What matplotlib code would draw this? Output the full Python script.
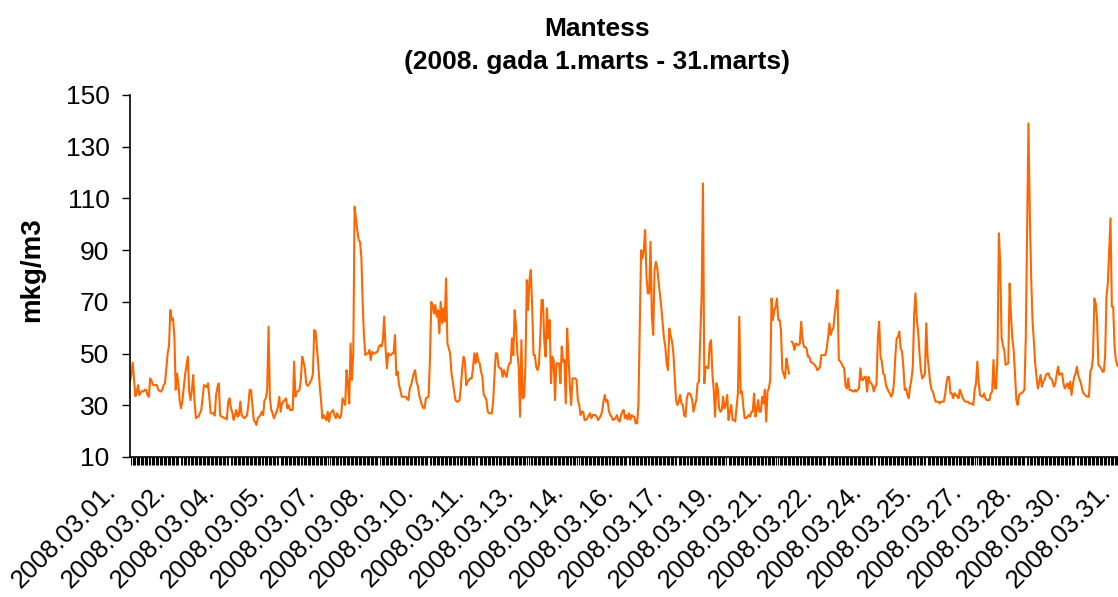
import numpy as np
import matplotlib
matplotlib.use("Agg")
import matplotlib.pyplot as plt
from matplotlib.ticker import FixedLocator, NullFormatter
from matplotlib.transforms import ScaledTranslation

plt.rcParams['font.family'] = ['Liberation Sans', 'DejaVu Sans']

# Consecutive hourly PM values (mkg/m3), 1-31 March 2008 in chunks
part01 = [39, 42, 46.5, 40, 33.5, 35, 37.8, 34, 35, 35.5, 35.3, 36, 36, 34, 33.3, 40.4, 39.5, 38, 37.8, 37.8, 37.8, 36, 35.5, 35.3]
part02 = [36, 37.8, 38.5, 44, 50, 53, 66.8, 63, 63.6, 56.5, 36, 42.3, 38, 31.4, 28.8, 32, 37.1, 42, 45.5, 48.8, 35.3, 32, 36]
part03 = [41.7, 31, 25, 25.6, 25.6, 27, 28.2, 33, 37.8, 37.5, 37.1, 38.5, 33, 27, 26.9, 26.9, 26, 34, 37, 38.5, 26.2, 25.6, 25.5, 25]
part04 = [25, 24.5, 31.4, 32.7, 29, 27.5, 24.3, 26, 28.2, 25.6, 26.2, 31.4, 26.2, 25.6, 25, 25.5, 26.2, 30.1, 36, 35.8, 30, 24.3, 23.5, 22.4]
part05 = [25, 25.6, 26.2, 27.5, 26.2, 32, 32.7, 36, 60.4, 33, 28.2, 27, 25, 26.2, 27.5, 29.5, 33.3, 27.5, 30.7, 31.5, 32, 32.7, 28.8]
part06 = [30, 28.2, 28.2, 28.2, 46.9, 33.3, 35.3, 35.3, 36, 39.8, 48.8, 46.9, 44.3, 38.5, 37.5, 38, 39, 40, 42.3, 59.1, 58.5, 52, 45.6, 37.8]
part07 = [32, 25, 26.2, 25, 24.3, 27.5, 23.7, 26.9, 27.5, 28.2, 26.2, 25, 26.9, 25.6, 25, 26.2, 32.7, 31.4, 30.1, 43.6, 38.5, 30.7, 53.9]
part08 = [39.8, 50.1, 106.8, 102, 97.8, 94, 93.2, 87.4, 69.4, 56.5, 49.4, 50, 50.1, 51.4, 47.5, 50.7, 50, 50.1, 50.5, 50.7, 52.7, 53.3, 52.7, 55]
part09 = [64.3, 52, 44.3, 50.1, 49.4, 49.4, 50.1, 50.1, 57.2, 41.7, 43, 38, 35.9, 33.3, 33.3, 33.3, 33.3, 32.5, 32, 36.5, 37.8, 40, 42.3, 43.6]
part10 = [39.1, 37.5, 34, 32, 30.1, 29, 28.8, 32.7, 33, 33.3, 47.5, 70, 68.8, 65.5, 68.8, 64.3, 66.8, 57.8, 70, 61.8, 67.5, 62.4, 79.1, 53.9]
part11 = [52, 50.1, 42.3, 39.1, 35.3, 32, 31.4, 31.4, 32, 37.2, 44.3, 48.8, 46.9, 37.8, 39.1, 39.8, 40.4, 40.4, 44.3, 50.1, 46.2, 50.1, 46.9]
part12 = [46.2, 43, 41, 34, 33.3, 32, 27.5, 26.9, 26.9, 26.9, 31.4, 41.7, 50.1, 50.1, 44.9, 44.3, 44.3, 41, 43.6, 42, 41, 44.3, 46.2]
part13 = [46.2, 55.9, 49.4, 66.8, 60.4, 50, 44.9, 25.6, 55.2, 32.7, 33.3, 45, 78.4, 66.8, 78.4, 82.3, 68.1, 49.4, 49.4, 44.9, 43.6, 45.6, 55.9, 70.7]
part14 = [70.7, 55, 48.8, 67.5, 55.9, 63, 38.5, 48.8, 47.5, 32, 46.2, 46.2, 46.2, 38.5, 52.7, 46.9, 47.5, 30.7, 59.7, 49.4, 37.8, 30.1, 40.4, 40.4]
part15 = [40.4, 39.8, 32, 30.1, 26.2, 27.5, 27.5, 24.3, 24.3, 25, 26, 26.9, 25, 26.2, 26.2, 26.2, 25.6, 24.3, 25, 26, 27.5, 31.4, 34, 31.4]
part16 = [32, 28, 26.2, 25.6, 24.3, 24.5, 25, 26.2, 24.3, 23.7, 26, 27.5, 28.2, 25, 26.2, 24.5, 26.9, 24.5, 26.2, 25.6, 25.6, 23, 23]
part17 = [30, 60, 90, 86.8, 90, 97.8, 80, 73.3, 73.3, 93.2, 64.3, 57.2, 82.3, 85.5, 82.9, 78, 73.3, 68, 62, 56, 52.7, 46.2, 43.6, 59.7]
part18 = [57, 54.6, 50.1, 41, 32, 30.1, 31.4, 34, 30.7, 30.1, 26.2, 25.6, 32.7, 34.6, 34.6, 34, 32, 27.5, 30, 32, 38.5, 39.1, 56.5]
part19 = [72, 115.8, 38.5, 44.9, 44.9, 44.3, 53.9, 55.2, 42.3, 36, 25.6, 38.5, 36.5, 28.8, 27.5, 28.2, 33.3, 28.8, 30.1, 34, 24.3, 27.5, 30.1, 24.3]
part20 = [24.3, 23.7, 29.5, 34.6, 64.3, 34.6, 35.3, 29.5, 25, 25, 25.5, 26.2, 25.6, 27.5, 27.5, 34.6, 25.6, 28, 32, 27.5, 27.5, 33.3, 30.7, 36]
part21 = [23.7, 35.3, 36.5, 39.8, 71.3, 63, 66.8, 68, 71.3, 63, 63, 59.1, 43.6, 42, 40.4, 48.1, 45, 42.3, np.nan, 54.6, 53.9, 51.4, 53.9, 53.5]
part22 = [53.3, 53.9, 62.3, 55.9, 52.7, 52.5, 52, 48.8, 48.8, 46.9, 46.5, 46.2, 45.6, 44.9, 43.6, 44, 44.9, 49.4, 49.4, 49.4, 49.4, 52, 55.9]
part23 = [61.7, 57.2, 59.1, 60, 65.5, 69.4, 74.6, 47.5, 47, 46.2, 45, 44.3, 37.5, 36.5, 40.4, 35.9, 35.9, 35.5, 35.3, 35.9, 35.3, 36, 36.5, 44.3]
part24 = [39.8, 39.8, 41, 41, 35.3, 41, 39, 38.5, 37.8, 35.3, 37.2, 37.8, 55.9, 62.3, 48.8, 46.9, 42.3, 41.7, 37.8, 36.5, 35.3, 34.6, 33.3]
part25 = [34.6, 38.5, 48.8, 55.9, 56.5, 58.5, 52, 50.7, 44.9, 35.9, 36.5, 34, 32.7, 37.2, 40, 44.9, 64.9, 73.3, 63, 58.5, 50.1, 43.6, 40.4, 41]
part26 = [42.3, 61.7, 48.8, 43.6, 38.5, 35.9, 35.3, 33, 31.4, 31.4, 31.4, 30.7, 31.4, 31.4, 31.4, 34, 38.5, 41, 41, 34.6, 34.6, 32.7, 34.6, 34]
part27 = [33.5, 32.7, 36, 34.6, 33, 32, 31.4, 31.4, 31.4, 30.7, 30.7, 30.7, 30.1, 36, 38.5, 46.9, 38.5, 34, 33.5, 33.3, 34.6, 32.7, 32]
part28 = [32, 32, 34.6, 35.3, 47.5, 36.5, 36.5, 50, 96.5, 84.9, 56.5, 53, 51.4, 45.6, 46, 46.2, 77.1, 64.9, 55.9, 51.4, 42.3, 32, 30.1, 34]
part29 = [34.6, 34.6, 35.3, 36, 56, 98, 139, 104.2, 80, 63, 55, 46, 41, 36.5, 39, 41.7, 37.2, 39.1, 40, 41.7, 42.3, 42.3, 40.4, 40.4]
part30 = [39, 37.2, 38.5, 42, 44.9, 41.7, 42.3, 42.3, 38.5, 36.5, 37.5, 38.5, 36.5, 39.1, 34, 38, 41, 42.3, 44.9, 41.7, 40, 38.5, 35.9]
part31 = [34.6, 34, 33.5, 33.3, 33.3, 43, 44.3, 48.8, 71.3, 69.4, 63, 45.6, 45, 44.3, 43, 43, 48.8, 72, 77.1, 90, 102.3, 68.1, 68.1, 52.7]
part32 = [47.5, 45.5, 44.9, 44, 43, 42, 41, 40, 40, 39, 39]

parts = [part01, part02, part03, part04, part05, part06, part07, part08, part09, part10,
         part11, part12, part13, part14, part15, part16, part17, part18, part19, part20,
         part21, part22, part23, part24, part25, part26, part27, part28, part29, part30,
         part31, part32]
values = np.concatenate([np.array(p, dtype=float) for p in parts])

tick_labels = ['2008.03.01.', '2008.03.02.', '2008.03.04.', '2008.03.05.', '2008.03.07.',
               '2008.03.08.', '2008.03.10.', '2008.03.11.', '2008.03.13.', '2008.03.14.',
               '2008.03.16.', '2008.03.17.', '2008.03.19.', '2008.03.21.', '2008.03.22.',
               '2008.03.24.', '2008.03.25.', '2008.03.27.', '2008.03.28.', '2008.03.30.',
               '2008.03.31.']
label_step = 37
y_ticks = [10, 30, 50, 70, 90, 110, 130, 150]

W, H = 1118, 597
fig = plt.figure(figsize=(W / 100, H / 100), dpi=100)
n_cat = 744
px_per_cat = 1.345
ax_left, ax_bottom, ax_top = 130, 457, 95
ax = fig.add_axes([ax_left / W, (H - ax_bottom) / H, n_cat * px_per_cat / W, (ax_bottom - ax_top) / H])

x = np.arange(len(values))
ax.plot(x, values, color='#FF6600', lw=1.5)

ax.set_xlim(0, n_cat)
ax.set_ylim(10, 150)
ax.set_yticks(y_ticks)
ax.tick_params(axis='y', direction='out', length=5.8, width=1, pad=9, labelsize=19)

ax.xaxis.set_major_locator(FixedLocator([i * label_step for i in range(len(tick_labels))]))
ax.set_xticklabels(tick_labels, rotation=45, ha='right', va='baseline',
                   rotation_mode='anchor', fontsize=18.5)
ax.xaxis.set_minor_locator(FixedLocator(np.arange(0, n_cat + 1, 1.0)))
ax.xaxis.set_minor_formatter(NullFormatter())
ax.tick_params(axis='x', which='major', length=0, pad=26)
ax.tick_params(axis='x', which='minor', direction='out', length=6, width=0.8, color='black')
shift = ScaledTranslation(-13 / 100, 0, fig.dpi_scale_trans)
for lab in ax.get_xticklabels():
    lab.set_transform(lab.get_transform() + shift)

for s in ['top', 'right']:
    ax.spines[s].set_visible(False)
for s in ['left', 'bottom']:
    ax.spines[s].set_linewidth(1.2)

fig.text(597 / W, 1 - 29 / H, 'Mantess', ha='center', va='center', fontsize=19, fontweight='bold')
fig.text(597 / W, 1 - 62 / H, '(2008. gada 1.marts - 31.marts)', ha='center', va='center', fontsize=19, fontweight='bold')
fig.text(32 / W, 1 - 270 / H, 'mkg/m3', rotation=90, ha='center', va='center', fontsize=20, fontweight='bold')

fig.savefig('out.png', dpi=100)
